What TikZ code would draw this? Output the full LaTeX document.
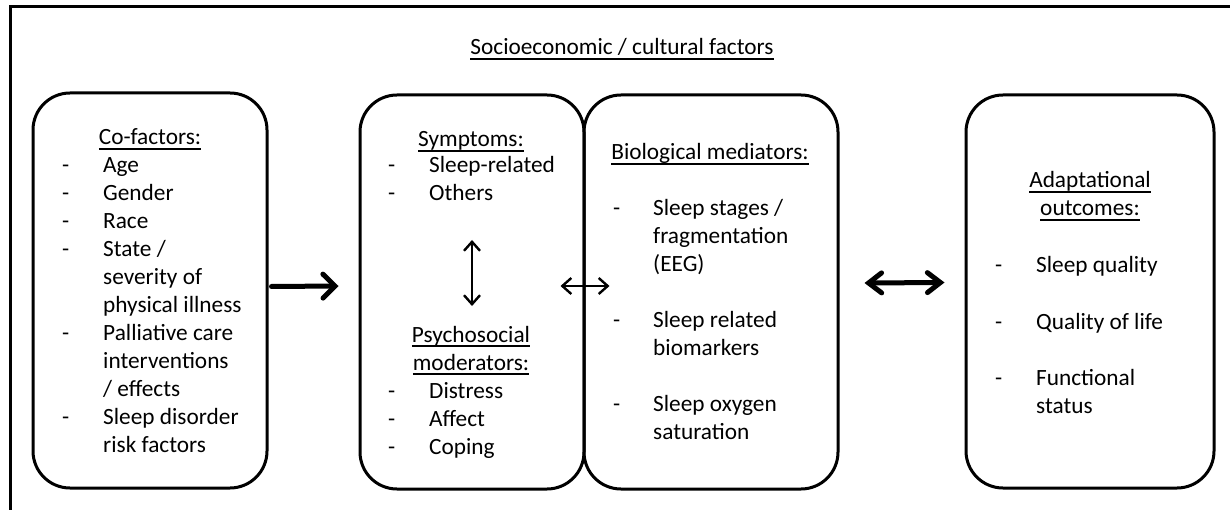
\documentclass[tikz,border=0pt]{standalone}
\usepackage{fontspec}
\setmainfont{Carlito}
\usetikzlibrary{arrows.meta}

% underline close under the baseline
\newcommand{\ulbox}[1]{\setbox0\hbox{#1}\rlap{\rule[-5pt]{\wd0}{1.8pt}}\box0}

\tikzset{
  panel/.style={draw, line width=3pt, rounded corners=37pt, inner sep=0pt},
  txt/.style={inner sep=0pt, anchor=base, font=\fontsize{23.3}{28}\selectfont},
  lst/.style={txt, anchor=base west},
  bigarrow/.style={line width=5pt, line cap=round, -{Straight Barb[length=12pt,width=24pt,line cap=round]}},
  bigboth/.style={line width=5pt, line cap=round, {Straight Barb[length=13pt,width=20pt,line cap=round]}-{Straight Barb[length=13pt,width=20pt,line cap=round]}},
  smallboth/.style={line width=2.4pt, {Straight Barb[length=9pt,width=16pt]}-{Straight Barb[length=9pt,width=16pt]}}
}

\begin{document}
\begin{tikzpicture}[x=1pt,y=-1pt]
	\useasboundingbox (0,0) rectangle (1230,510);
	\draw [line width=3pt] (10,512) -- (10,7) -- (1232,7);

	\node[txt] (title) at (622,55) {\ulbox{Socioeconomic / cultural factors}};

	% boxes
	\node[panel, minimum width=234pt, minimum height=395pt] (cofactors) at (150,290.5) {};
	\node[panel, minimum width=224pt, minimum height=394pt] (symptoms) at (472,292) {};
	\node[panel, minimum width=254pt, minimum height=394pt] (biomed) at (711,292) {};
	\node[panel, minimum width=248pt, minimum height=393pt] (outcomes) at (1090,291.5) {};

	% co-factors
	\node[txt] (cohead) at (150,145) {\ulbox{Co-factors:}};
	\node[lst] (colist) at (62,173) {\begin{tabular}[t]{@{}p{41pt}@{}l@{}}
		- & Age\\
		- & Gender\\
		- & Race\\
		- & State /\\
		  & severity of\\
		  & physical illness\\
		- & Palliative care\\
		  & interventions\\
		  & / effects\\
		- & Sleep disorder\\
		  & risk factors
	\end{tabular}};

	% symptoms and moderators
	\node[txt] (symhead) at (471,147) {\ulbox{Symptoms:}};
	\node[lst] (symlist) at (388,173) {\begin{tabular}[t]{@{}p{41pt}@{}l@{}}
		- & Sleep-related\\
		- & Others
	\end{tabular}};
	\node[txt] (psyhead) at (471,342) {\ulbox{Psychosocial}};
	\node[txt] (psyhead2) at (471,370) {\ulbox{moderators:}};
	\node[lst] (psylist) at (388,398) {\begin{tabular}[t]{@{}p{41pt}@{}l@{}}
		- & Distress\\
		- & Affect\\
		- & Coping
	\end{tabular}};

	% biological mediators
	\node[txt] (biohead) at (710,160) {\ulbox{Biological mediators:}};
	\node[lst] (biolist) at (613,216) {\begin{tabular}[t]{@{}p{40pt}@{}l@{}}
		- & Sleep stages /\\
		  & fragmentation\\
		  & (EEG)\\[28pt]
		- & Sleep related\\
		  & biomarkers\\[28pt]
		- & Sleep oxygen\\
		  & saturation
	\end{tabular}};

	% outcomes
	\node[txt] (outhead) at (1090,188) {\ulbox{Adaptational}};
	\node[txt] (outhead2) at (1090,216) {\ulbox{outcomes:}};
	\node[lst] (outlist) at (995,273) {\begin{tabular}[t]{@{}p{41pt}@{}l@{}}
		- & Sleep quality\\[28pt]
		- & Quality of life\\[28pt]
		- & Functional\\
		  & status
	\end{tabular}};

	% arrows
	\draw [bigarrow] ([xshift=3pt,yshift=4pt]cofactors.east) -- ([xshift=-20pt,yshift=6pt]symptoms.west);
	\draw [smallboth] ([yshift=52pt]symptoms.center) -- ([yshift=-14pt]symptoms.center);
	\draw [smallboth] ([xshift=-25pt,yshift=6pt]symptoms.east) -- ([xshift=24pt,yshift=6pt]symptoms.east);
	\draw [bigboth] ([xshift=25pt,yshift=9pt]biomed.east) -- ([xshift=-20pt,yshift=9pt]outcomes.west);
\end{tikzpicture}
\end{document}
